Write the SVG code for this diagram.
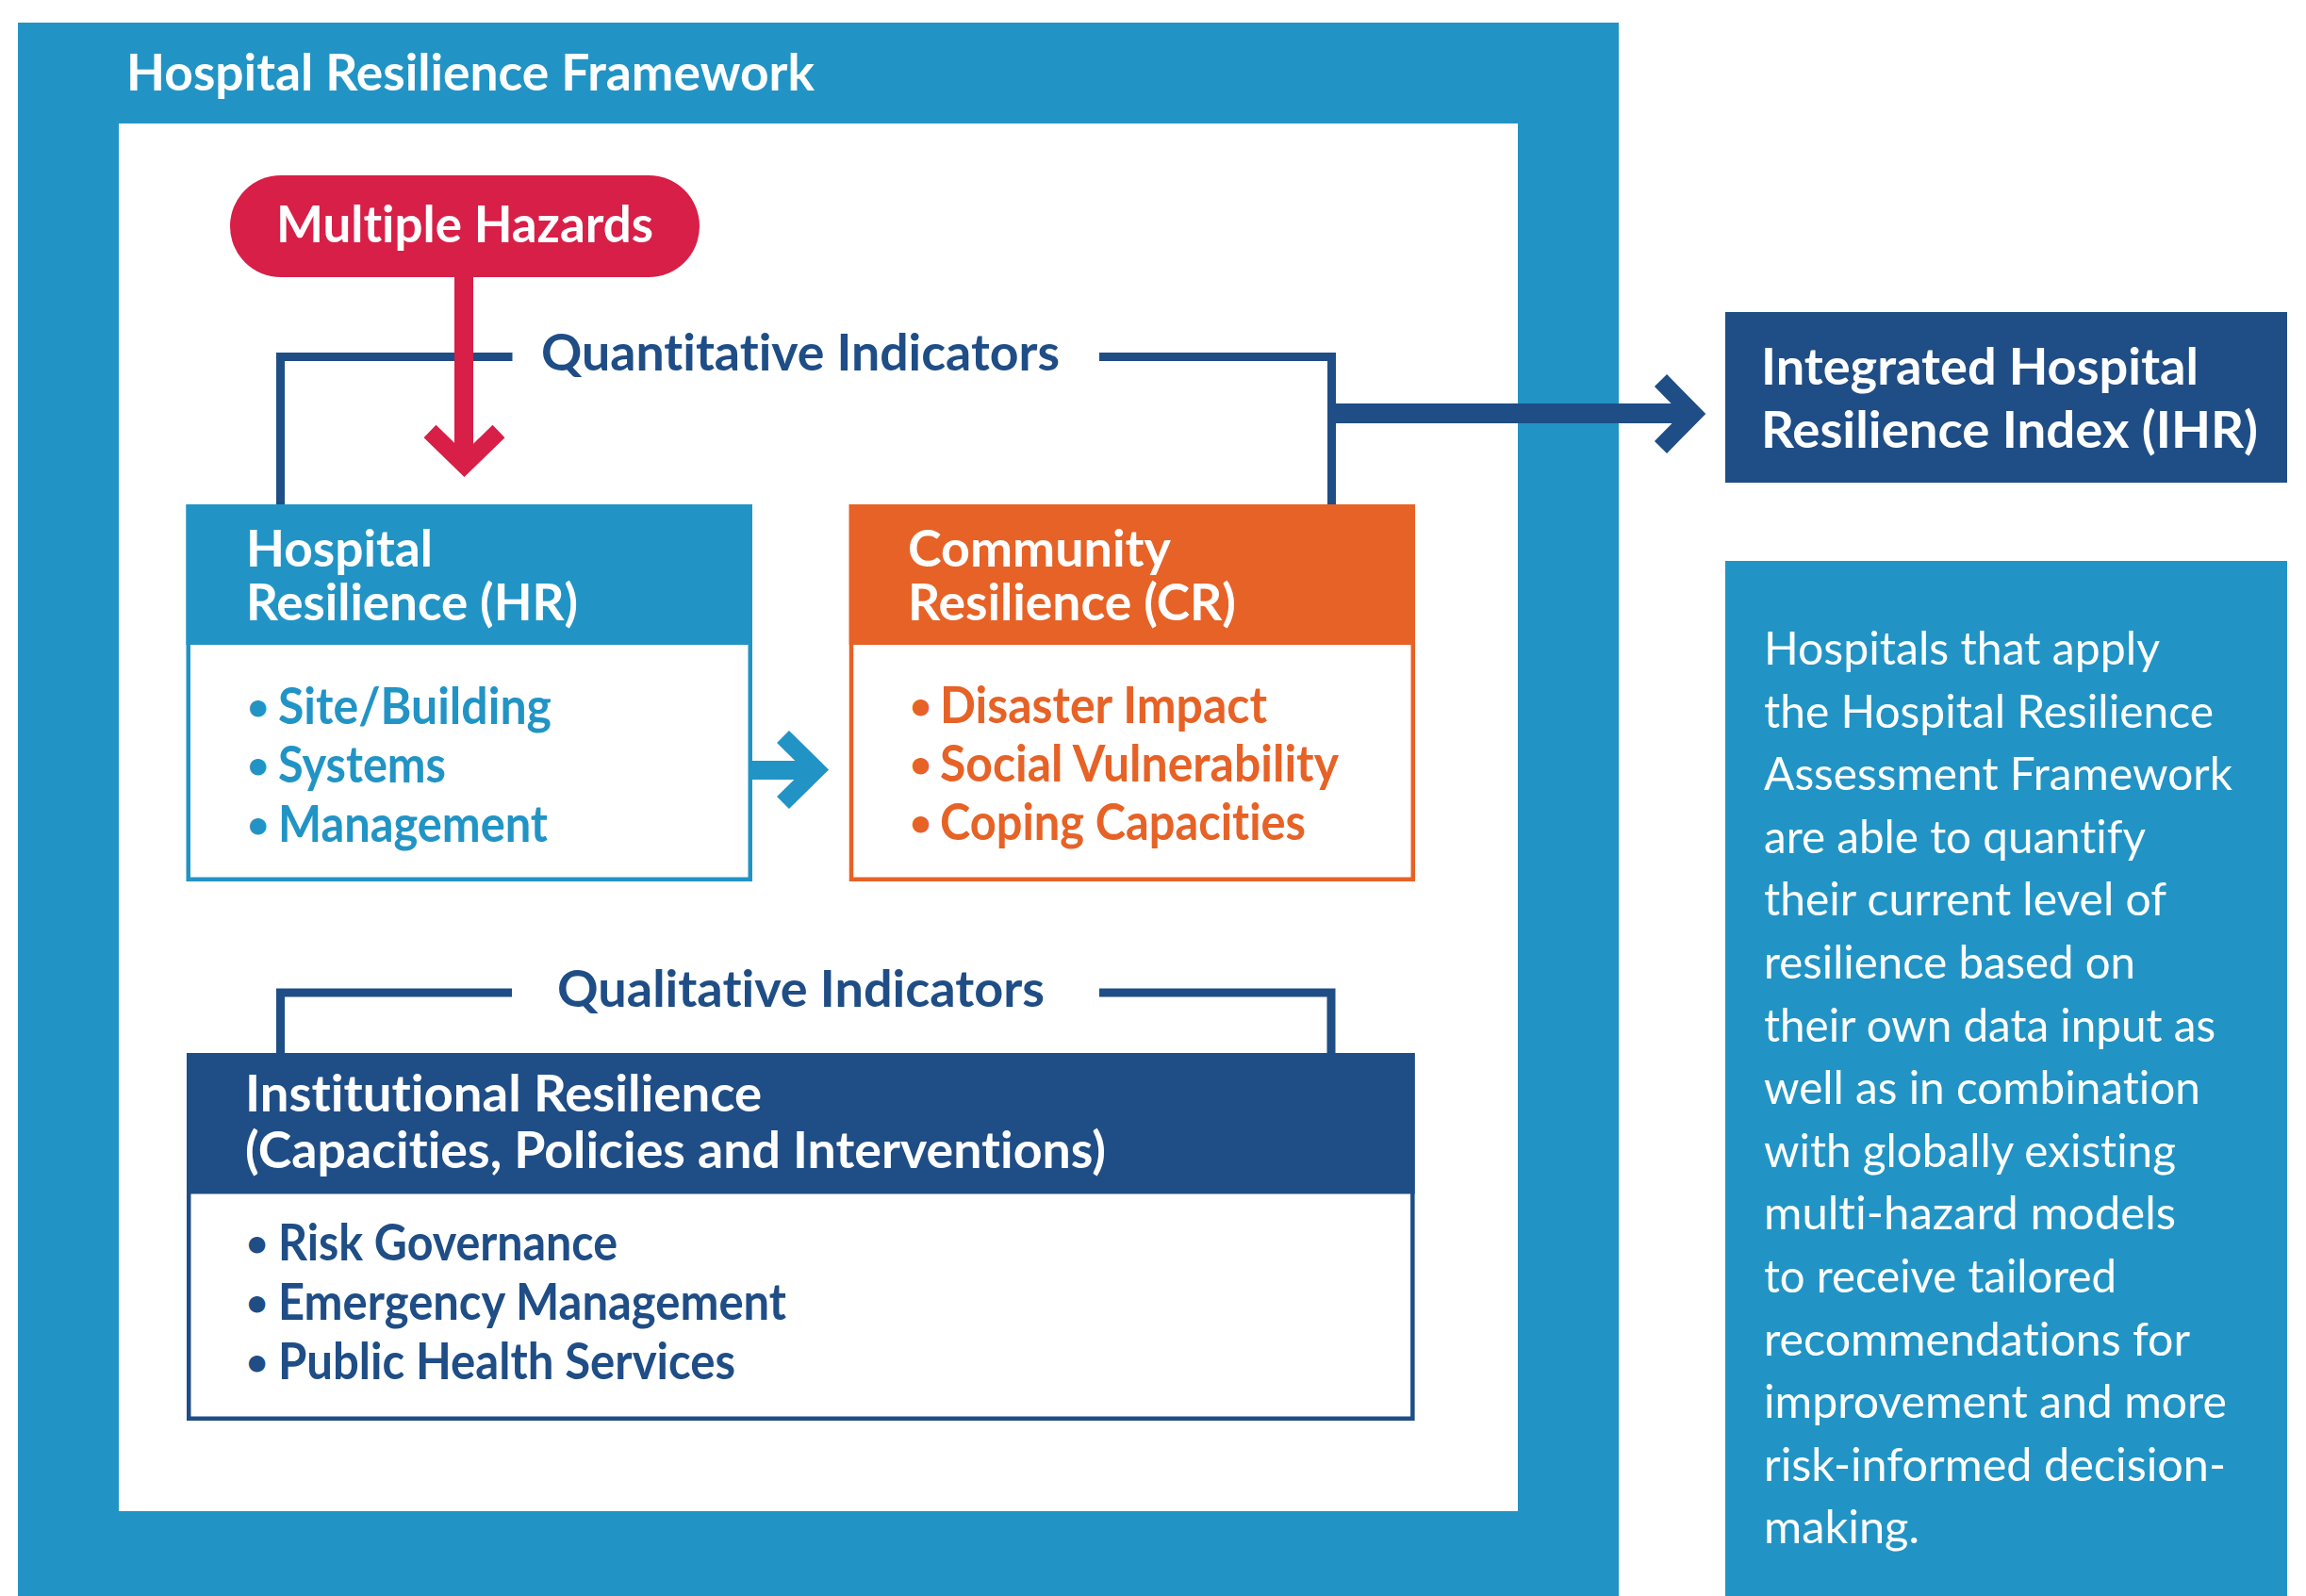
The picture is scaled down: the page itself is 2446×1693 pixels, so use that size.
<svg xmlns="http://www.w3.org/2000/svg" width="2446" height="1693" viewBox="0 0 2446 1693">
  <style>
    text { font-variant-ligatures: none; font-feature-settings: "liga" 0, "dlig" 0; }
    .b { font-family: Lato, "Open Sans", "Liberation Sans", sans-serif; font-weight: 700; font-size: 54px; }
    .dot { font-family: Lato, "Open Sans", "Liberation Sans", sans-serif; font-weight: 700; font-size: 40px; }
    .r { font-family: Lato, "Open Sans", "Liberation Sans", sans-serif; font-weight: 400; font-size: 49px; fill: #ffffff; }
    .w { fill: #ffffff; }
    .blue { fill: #2194c5; }
    .navy { fill: #1f4d86; }
    .orange { fill: #e66226; }
    .link { fill: none; stroke: #1f4d86; stroke-width: 9; stroke-linejoin: miter; }
  </style>

  <!-- page -->
  <rect x="0" y="0" width="2446" height="1693" fill="#ffffff"/>

  <!-- framework frame -->
  <g id="framework">
    <rect x="19" y="24" width="1698" height="1669" fill="#2194c5"/>
    <rect x="126" y="131" width="1484" height="1472" fill="#ffffff"/>
    <text class="b w" x="134" y="96" textLength="730" lengthAdjust="spacingAndGlyphs">Hospital Resilience Framework</text>
  </g>

  <!-- connectors -->
  <g id="connectors">
    <!-- quantitative bracket -->
    <path class="link" d="M297.5 535 V378.5 H543.5"/>
    <path class="link" d="M1166 378.5 H1412.5 V535"/>
    <!-- qualitative bracket -->
    <path class="link" d="M297.5 1117 V1053 H543"/>
    <path class="link" d="M1166 1053 H1412 V1117"/>
    <!-- to integrated index -->
    <rect x="1408" y="428" width="382" height="21" fill="#1f4d86"/>
    <polyline points="1761.5,403.5 1796.4,439 1761.5,474.5" fill="none" stroke="#1f4d86" stroke-width="18.4" stroke-linejoin="miter" stroke-miterlimit="4"/>
    <!-- hazards to hospital -->
    <rect x="482" y="293" width="20" height="196" fill="#d81f47"/>
    <polyline points="456,457.5 492.5,493 529,457.5" fill="none" stroke="#d81f47" stroke-width="18.6" stroke-linejoin="miter" stroke-miterlimit="4"/>
    <!-- hospital to community -->
    <rect x="749" y="807" width="111" height="20" fill="#2194c5"/>
    <polyline points="830.5,781.5 866,816.5 830.5,851.5" fill="none" stroke="#2194c5" stroke-width="18.4" stroke-linejoin="miter" stroke-miterlimit="4"/>
  </g>

  <!-- multiple hazards -->
  <g id="hazards">
    <rect x="244" y="186" width="498" height="108" rx="54" ry="54" fill="#d81f47"/>
    <text class="b w" x="293" y="257" textLength="400" lengthAdjust="spacingAndGlyphs">Multiple Hazards</text>
  </g>

  <!-- indicator labels -->
  <g id="labels">
    <text class="b navy" x="574" y="393" textLength="550" lengthAdjust="spacingAndGlyphs">Quantitative Indicators</text>
    <text class="b navy" x="591" y="1068" textLength="517" lengthAdjust="spacingAndGlyphs">Qualitative Indicators</text>
  </g>

  <!-- hospital resilience -->
  <g id="hospital-resilience">
    <rect x="199.75" y="537.25" width="596" height="395.5" fill="#ffffff" stroke="#2194c5" stroke-width="4.5"/>
    <rect x="197.5" y="535" width="600.5" height="149" fill="#2194c5"/>
    <text class="b w"><tspan x="261" y="601" textLength="198" lengthAdjust="spacingAndGlyphs">Hospital</tspan><tspan x="261" y="658" textLength="352" lengthAdjust="spacingAndGlyphs">Resilience (HR)</tspan></text>
    <text class="dot blue" x="262" y="764">•</text>
    <text class="b blue" x="295" y="768" textLength="290" lengthAdjust="spacingAndGlyphs">Site/Building</text>
    <text class="dot blue" x="262" y="826">•</text>
    <text class="b blue" x="295" y="830" textLength="178" lengthAdjust="spacingAndGlyphs">Systems</text>
    <text class="dot blue" x="262" y="889">•</text>
    <text class="b blue" x="295" y="893" textLength="286" lengthAdjust="spacingAndGlyphs">Management</text>
  </g>

  <!-- community resilience -->
  <g id="community-resilience">
    <rect x="903" y="537.25" width="595.8" height="395.5" fill="#ffffff" stroke="#e66226" stroke-width="4.5"/>
    <rect x="900.7" y="535" width="600.3" height="149" fill="#e66226"/>
    <text class="b w"><tspan x="963" y="601" textLength="279" lengthAdjust="spacingAndGlyphs">Community</tspan><tspan x="963" y="658" textLength="348" lengthAdjust="spacingAndGlyphs">Resilience (CR)</tspan></text>
    <text class="dot orange" x="965" y="763">•</text>
    <text class="b orange" x="997" y="767" textLength="347" lengthAdjust="spacingAndGlyphs">Disaster Impact</text>
    <text class="dot orange" x="965" y="825">•</text>
    <text class="b orange" x="997" y="829" textLength="423" lengthAdjust="spacingAndGlyphs">Social Vulnerability</text>
    <text class="dot orange" x="965" y="887">•</text>
    <text class="b orange" x="997" y="891" textLength="388" lengthAdjust="spacingAndGlyphs">Coping Capacities</text>
  </g>

  <!-- institutional resilience -->
  <g id="institutional-resilience">
    <rect x="200.25" y="1119.25" width="1298.1" height="385.5" fill="#ffffff" stroke="#1f4d86" stroke-width="4.5"/>
    <rect x="198" y="1117" width="1302.6" height="149.5" fill="#1f4d86"/>
    <text class="b w"><tspan x="260" y="1179" textLength="548" lengthAdjust="spacingAndGlyphs">Institutional Resilience</tspan><tspan x="260" y="1239" textLength="913" lengthAdjust="spacingAndGlyphs">(Capacities, Policies and Interventions)</tspan></text>
    <text class="dot navy" x="261" y="1333">•</text>
    <text class="b navy" x="295" y="1337" textLength="360" lengthAdjust="spacingAndGlyphs">Risk Governance</text>
    <text class="dot navy" x="261" y="1396">•</text>
    <text class="b navy" x="295" y="1400" textLength="539" lengthAdjust="spacingAndGlyphs">Emergency Management</text>
    <text class="dot navy" x="261" y="1459">•</text>
    <text class="b navy" x="295" y="1463" textLength="485" lengthAdjust="spacingAndGlyphs">Public Health Services</text>
  </g>

  <!-- integrated index -->
  <g id="integrated-index">
    <rect x="1830" y="331" width="596" height="181" fill="#1f4d86"/>
    <text class="b w"><tspan x="1868" y="408" textLength="464" lengthAdjust="spacingAndGlyphs">Integrated Hospital</tspan><tspan x="1868" y="475" textLength="527" lengthAdjust="spacingAndGlyphs">Resilience Index (IHR)</tspan></text>
  </g>

  <!-- description -->
  <g id="description">
    <rect x="1830" y="595" width="596" height="1098" fill="#2194c5"/>
    <text class="r" x="1871" y="705" textLength="420" lengthAdjust="spacingAndGlyphs">Hospitals that apply</text>
    <text class="r" x="1871" y="771.6" textLength="477" lengthAdjust="spacingAndGlyphs">the Hospital Resilience</text>
    <text class="r" x="1871" y="838.2" textLength="497" lengthAdjust="spacingAndGlyphs">Assessment Framework</text>
    <text class="r" x="1871" y="904.8" textLength="405" lengthAdjust="spacingAndGlyphs">are able to quantify</text>
    <text class="r" x="1871" y="971.4" textLength="427" lengthAdjust="spacingAndGlyphs">their current level of</text>
    <text class="r" x="1871" y="1038" textLength="394" lengthAdjust="spacingAndGlyphs">resilience based on</text>
    <text class="r" x="1871" y="1104.6" textLength="479" lengthAdjust="spacingAndGlyphs">their own data input as</text>
    <text class="r" x="1871" y="1171.2" textLength="463" lengthAdjust="spacingAndGlyphs">well as in combination</text>
    <text class="r" x="1871" y="1237.8" textLength="437" lengthAdjust="spacingAndGlyphs">with globally existing</text>
    <text class="r" x="1871" y="1304.4" textLength="437" lengthAdjust="spacingAndGlyphs">multi-hazard models</text>
    <text class="r" x="1871" y="1371" textLength="374" lengthAdjust="spacingAndGlyphs">to receive tailored</text>
    <text class="r" x="1871" y="1437.6" textLength="452" lengthAdjust="spacingAndGlyphs">recommendations for</text>
    <text class="r" x="1871" y="1504.2" textLength="491" lengthAdjust="spacingAndGlyphs">improvement and more</text>
    <text class="r" x="1871" y="1570.8" textLength="490" lengthAdjust="spacingAndGlyphs">risk-informed decision-</text>
    <text class="r" x="1871" y="1637.4" textLength="165" lengthAdjust="spacingAndGlyphs">making.</text>
  </g>
</svg>
